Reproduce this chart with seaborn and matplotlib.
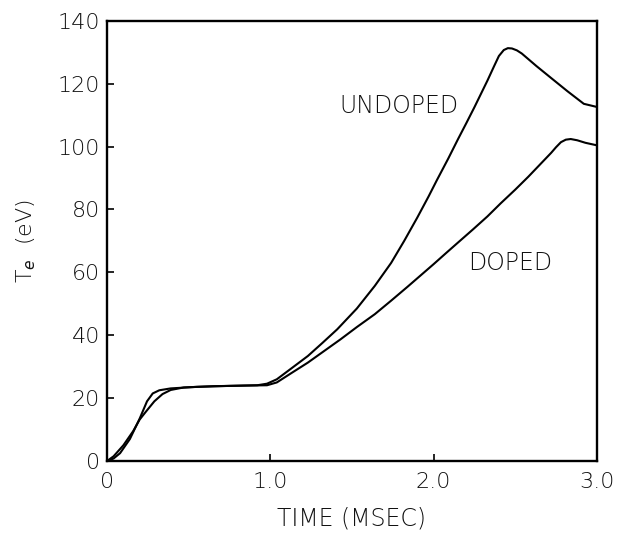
import numpy as np
import pandas as pd
import matplotlib
matplotlib.use("Agg")
import matplotlib.pyplot as plt
import seaborn as sns

# Data (time in msec, Te in eV)
undoped_t = [0.0, 0.04, 0.08, 0.14, 0.20, 0.245, 0.28, 0.32, 0.39, 0.55, 0.75, 0.92,
             0.98, 1.04, 1.13, 1.23, 1.32, 1.41, 1.53, 1.64, 1.74, 1.82, 1.90, 1.97, 2.02,
             2.09, 2.15, 2.20, 2.25, 2.33, 2.37, 2.40, 2.43, 2.455, 2.48, 2.51, 2.54,
             2.63, 2.72, 2.82, 2.92, 3.0]
undoped_te = [0.0, 0.8, 2.5, 7.0, 13.5, 19.0, 21.5, 22.5, 23.1, 23.6, 23.9, 24.1,
              24.6, 26.0, 29.5, 33.4, 37.6, 41.9, 48.5, 55.7, 63.0, 70.0, 77.4, 84.2, 89.3,
              96.2, 102.4, 107.4, 112.5, 121.0, 125.5, 128.8, 130.7, 131.3, 131.2, 130.6, 129.6,
              125.6, 121.8, 117.6, 113.6, 112.6]

doped_t = [0.0, 0.04, 0.10, 0.16, 0.20, 0.235, 0.29, 0.34, 0.39, 0.47, 0.65, 0.85,
           0.98, 1.04, 1.13, 1.23, 1.33, 1.43, 1.53, 1.64, 1.74, 1.84, 1.92, 2.00,
           2.08, 2.15, 2.24, 2.33, 2.41, 2.50, 2.58, 2.65, 2.72, 2.75, 2.78, 2.81,
           2.84, 2.88, 2.93, 3.0]
doped_te = [0.0, 1.5, 5.0, 9.5, 13.2, 15.5, 19.0, 21.3, 22.6, 23.4, 23.8, 24.0,
            24.1, 25.0, 28.0, 31.3, 35.0, 38.7, 42.6, 46.7, 51.0, 55.4, 59.0, 62.6,
            66.3, 69.5, 73.6, 77.8, 81.9, 86.3, 90.4, 94.2, 98.0, 99.8, 101.4, 102.2,
            102.4, 102.0, 101.2, 100.4]

series_names = ["UNDOPED", "DOPED"]
x_ticks = [0, 1, 2, 3]
x_tick_labels = ["0", "1.0", "2.0", "3.0"]
y_ticks = [0, 20, 40, 60, 80, 100, 120, 140]
y_tick_labels = ["0", "20", "40", "60", "80", "100", "120", "140"]

df = pd.concat([
    pd.DataFrame({"t": undoped_t, "Te": undoped_te, "case": series_names[0]}),
    pd.DataFrame({"t": doped_t, "Te": doped_te, "case": series_names[1]}),
], ignore_index=True)

sns.set_style("ticks")
plt.rcParams["font.family"] = ["DejaVu Sans"]

INK = "#111111"

fig = plt.figure(figsize=(6.24, 5.33), dpi=100)
ax = fig.add_axes([0.1715, 0.135, 0.785, 0.826])

sns.lineplot(data=df, x="t", y="Te", hue="case", palette=["black", "black"],
             linewidth=1.5, legend=False, sort=False, estimator=None, ax=ax)
for ln in ax.lines:
    ln.set_solid_joinstyle("round")
    ln.set_solid_capstyle("round")

ax.set_xlim(0, 3.0)
ax.set_ylim(0, 140)
for s in ax.spines.values():
    s.set_visible(True)
    s.set_color("black")
    s.set_linewidth(1.7)

ax.set_xticks(x_ticks)
ax.set_xticklabels(x_tick_labels)
ax.set_yticks(y_ticks)
ax.set_yticklabels(y_tick_labels)
ax.tick_params(axis="both", direction="in", length=5, width=1.2, colors="black",
               labelsize=16, labelcolor=INK)
ax.tick_params(axis="x", pad=8)
ax.tick_params(axis="y", pad=5)
for lab in ax.get_xticklabels() + ax.get_yticklabels():
    lab.set_fontweight("light")

ax.set_xlabel("TIME (MSEC)", fontsize=17, color=INK, labelpad=10, fontweight="light")
ax.set_ylabel(r"T$_e$  (eV)", fontsize=16, color=INK, labelpad=14, fontweight="light")

ax.text(1.79, 113, "UNDOPED", fontsize=17, ha="center", va="center", color=INK,
        fontweight="light")
ax.text(2.47, 63, "DOPED", fontsize=17, ha="center", va="center", color=INK,
        fontweight="light")

fig.savefig("out.png", dpi=100, facecolor="white")
